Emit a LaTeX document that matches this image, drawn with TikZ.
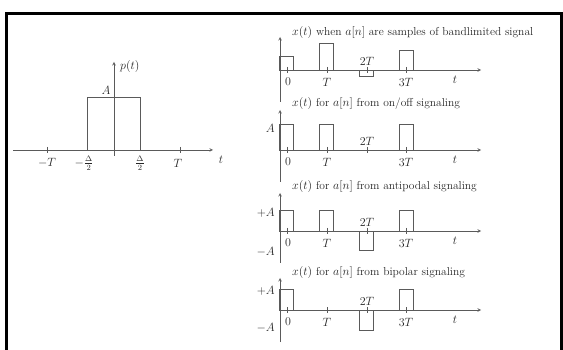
\documentclass[tikz,border=0pt]{standalone}
\usepackage{tikz}
\usetikzlibrary{arrows, positioning, calc}
\definecolor{plotgray}{RGB}{90, 90, 90}
\tikzset{
    axis/.style={draw=plotgray, line width=0.6pt, ->, >=stealth},
    pulse/.style={draw=plotgray, line width=0.6pt},
    tick/.style={draw=plotgray, line width=0.6pt},
    lbl/.style={inner sep=0pt, text=black!85, font=\fontsize{11.5}{13}\selectfont},
    frame/.style={draw=black, line width=3pt}
}

\begin{document}
\begin{tikzpicture}[x=1pt, y=-1pt]
    \useasboundingbox (0,0) rectangle (563,350);
    % frame round the figure
    \coordinate (fbl) at (6.5,352);
    \coordinate (ftl) at (6.5,13.5);
    \coordinate (ftr) at (561,13.5);
    \coordinate (fbr) at (561,352);
    \draw[frame] (fbl) -- (ftl) -- (ftr) -- (fbr);

    % the pulse p(t)
    \coordinate (pl) at (13,150);
    \coordinate (pr) at (213,150);
    \coordinate (pb) at (114,156);
    \coordinate (pt) at (114,62);
    \draw[axis] (pl) -- (pr);
    \draw[axis] (pb) -- (pt);
    \draw[pulse] (87,150) rectangle (140,97);
    \foreach \x in {47, 180}
        \draw[tick] (\x,147) -- (\x,153);
    \node (plab) [lbl, anchor=west] at (120,67) {$p(t)$};
    \node (amp) [lbl] at (106,90) {$A$};
    \node (mT) [lbl] at (47,163) {$-T$};
    \node (mD) [lbl] at (84,163) {$-\frac{\Delta}{2}$};
    \node (pD) [lbl] at (140,163) {$\frac{\Delta}{2}$};
    \node (pT) [lbl] at (178,163) {$T$};
    \node (tl) [lbl] at (221,160) {$t$};

    % the four pulse trains
    \foreach \ay/\tip/\ha/\hb/\hc/\hd [count=\i] in
        {70/37/14/27/-6/20, 150/110/26/26/0/26, 231/193/21/21/-19/21, 310/278/21/0/-20/21} {
        \coordinate (h\i) at (280,\ay);
        \coordinate (e\i) at (481,\ay);
        \coordinate (b\i) at (280,\ay+32);
        \coordinate (v\i) at (280,\tip);
        \draw[axis] (h\i) -- (e\i);
        \draw[axis] (b\i) -- (v\i);
        \foreach \c in {287, 327, 367, 406}
            \draw[tick] (\c,\ay-3) -- (\c,\ay+3);
        \foreach \c/\h in {286/\ha, 326/\hb, 366/\hc, 406/\hd}
            \draw[pulse] (\c-7,\ay) rectangle (\c+7,\ay-\h);
        \node (z\i) [lbl] at (288,\ay+12) {$0$};
        \node (t\i) [lbl] at (327,\ay+12) {$T$};
        \node (tt\i) [lbl] at (367,\ay-9) {$2T$};
        \node (ttt\i) [lbl] at (406,\ay+12) {$3T$};
        \node (tv\i) [lbl] at (455,\ay+10) {$t$};
    }

    \node (ta) [lbl, anchor=west] at (292,33) {$x(t)$ when $a[n]$ are samples of bandlimited signal};
    \node (tb) [lbl, anchor=west] at (292,104) {$x(t)$ for $a[n]$ from on/off signaling};
    \node (tc) [lbl, anchor=west] at (292,187) {$x(t)$ for $a[n]$ from antipodal signaling};
    \node (td) [lbl, anchor=west] at (292,273) {$x(t)$ for $a[n]$ from bipolar signaling};

    \node (ab) [lbl, anchor=east] at (275,128) {$A$};
    \node (apc) [lbl, anchor=east] at (275,213) {$+A$};
    \node (amc) [lbl, anchor=east] at (275,252) {$-A$};
    \node (apd) [lbl, anchor=east] at (275,291) {$+A$};
    \node (amd) [lbl, anchor=east] at (275,328) {$-A$};
\end{tikzpicture}
\end{document}
